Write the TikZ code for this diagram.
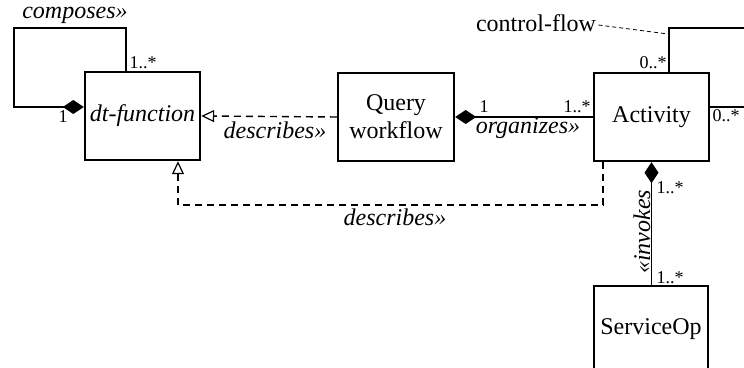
\documentclass[tikz,border=0pt]{standalone}
\usepackage{fontspec}
\setmainfont{Liberation Serif}
\usetikzlibrary{arrows.meta}
\tikzset{
  x=0.5pt, y=-0.5pt,
  box/.style={draw, line width=1.2pt, inner sep=0pt, font=\fontsize{12}{14}\selectfont, align=center},
  conn/.style={line width=0.7pt},
  dsh/.style={conn, dash pattern=on 3.5pt off 2.5pt},
  comp/.style={{Diamond[length=10.5pt,width=7pt]}-},
  gen/.style={-{Triangle[open,length=6.5pt,width=6pt,line width=0.6pt]}},
  lbl/.style={font=\fontsize{12}{14}\selectfont\itshape, inner sep=0pt},
  mult/.style={font=\fontsize{9}{10}\selectfont, inner sep=0pt},
  plain/.style={font=\fontsize{12}{14}\selectfont, inner sep=0pt}
}
\begin{document}
\begin{tikzpicture}
\useasboundingbox (0,0) rectangle (744,368);
\clip (0,0) rectangle (744,368);
\fill[white] (0,0) rectangle (744,368);
% boxes
\node[box, minimum width=57.5pt, minimum height=44pt] (dt) at (142.5,116) {\itshape dt-function};
\node[box, minimum width=58pt, minimum height=44pt] (qw) at (396,117) {Query\\workflow};
\node[box, minimum width=57.5pt, minimum height=44pt] (act) at (651.5,117) {Activity};
\node[box, minimum width=57pt, minimum height=55pt] (svc) at (651,341) {\raisebox{14pt}{ServiceOp}};
% composes loop
\coordinate (cl1) at (14,107);
\coordinate (cl2) at (14,28);
\coordinate (cl3) at (126,28);
\draw[conn, comp] (dt.west |- cl1) -- (cl1) -- (cl2) -- (cl3) -- (cl3 |- dt.north);
\node[lbl] (lcomp) at (75,15) {composes»};
\node[mult] (mc1) at (143,63) {1..*};
\node[mult] (mc2) at (63,117) {1};
% describes (upper)
\draw[dsh, gen] (qw.west) -- (dt.east);
\node[lbl] (ldesc1) at (275,130) {describes»};
% organizes
\draw[conn, comp] (qw.east) -- (act.west);
\node[mult] (mo1) at (484,107) {1};
\node[mult] (mo2) at (577,107) {1..*};
\node[lbl] (lorg) at (528,128) {organizes»};
% control-flow loop
\coordinate (cf1) at (669,28);
\coordinate (cf2) at (760,28);
\coordinate (cf3) at (760,107);
\draw[conn] (act.north -| cf1) -- (cf1) -- (cf2);
\draw[conn] (act.east |- cf3) -- (cf3);
\node[mult] (mcf1) at (653,63) {0..*};
\node[mult] (mcf2) at (726,116) {0..*};
\node[plain] (lcf) at (536,23) {control-flow};
\coordinate (cfn) at (668,34);
\draw[line width=0.4pt, dash pattern=on 2pt off 1.5pt] (lcf.east) ++(2,2) -- (cfn);
% describes (lower)
\coordinate (d1) at (603,205);
\coordinate (d2) at (178,205);
\draw[dsh, gen] (act.south -| d1) -- (d1) -- (d2) -- (d2 |- dt.south);
\node[lbl] (ldesc2) at (395,217) {describes»};
% invokes
\draw[conn, comp] (act.south) -- (svc.north -| act.south);
\node[mult] (mi1) at (670,188) {1..*};
\node[mult] (mi2) at (670,278) {1..*};
\node[lbl, rotate=90] (linv) at (642,232) {«invokes};
\end{tikzpicture}
\end{document}
